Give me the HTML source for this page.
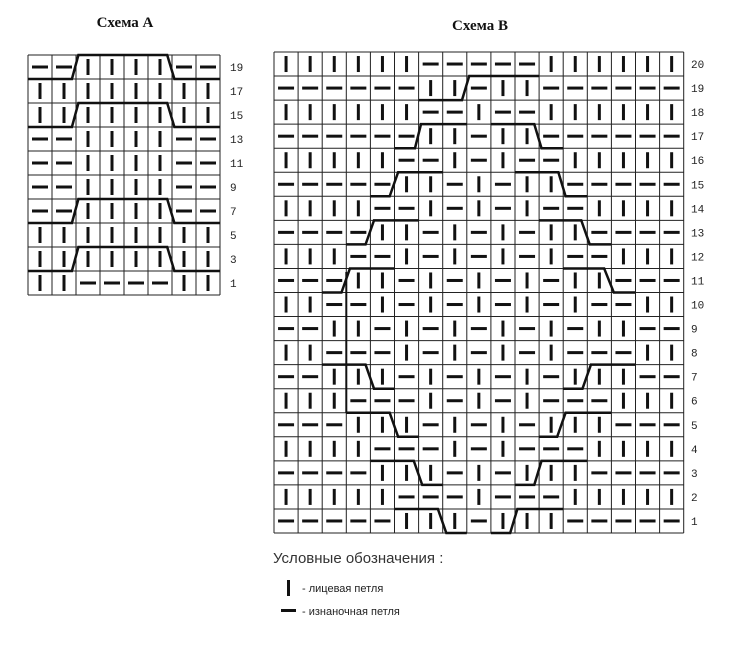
<!DOCTYPE html>
<html><head><meta charset="utf-8"><style>
html,body{margin:0;padding:0;background:#fff;width:737px;height:650px;overflow:hidden}
svg{position:absolute;left:0;top:0}
</style></head><body>
<svg id="s" width="737" height="650" xmlns="http://www.w3.org/2000/svg">
<text x="125" y="27" font-family="Liberation Serif, serif" font-weight="bold" font-size="15" text-anchor="middle" fill="#111">Схема А</text>
<text x="480" y="30" font-family="Liberation Serif, serif" font-weight="bold" font-size="15" text-anchor="middle" fill="#111">Схема В</text>
<text x="273" y="563" font-family="Liberation Sans, sans-serif" font-size="15" fill="#333">Условные обозначения :</text>
<rect x="287" y="580" width="3" height="16" fill="#111"/>
<text x="302" y="592" font-family="Liberation Sans, sans-serif" font-size="11" fill="#222">- лицевая петля</text>
<rect x="281" y="609" width="15" height="3" fill="#111"/>
<text x="302" y="615" font-family="Liberation Sans, sans-serif" font-size="11" fill="#222">- изнаночная петля</text>
</svg>
<script>
var s=document.getElementById('s'),NS='http://www.w3.org/2000/svg';
function el(t,a){var e=document.createElementNS(NS,t);for(var k in a)e.setAttribute(k,a[k]);s.appendChild(e);return e;}
function grid(x0,y0,cw,rh,rows,labels,lx){
 var nr=rows.length,nc=rows[0].length;
 for(var r=0;r<nr;r++){for(var c=0;c<nc;c++){
  var x=x0+c*cw,y=y0+r*rh,cx=x+cw/2,cy=y+rh/2;
  if(rows[r][c]=='K')el('rect',{x:cx-1.5,y:cy-8,width:3,height:16,fill:'#111'});
  else el('rect',{x:cx-8,y:cy-1.5,width:16,height:3,fill:'#111'});
 }
 var t=el('text',{x:lx,y:y0+r*rh+rh/2+4,'font-family':'Liberation Mono, monospace','font-size':'11',fill:'#222'});t.textContent=labels[r];}
 for(var r=0;r<=nr;r++)el('line',{x1:x0,x2:x0+nc*cw,y1:y0+r*rh,y2:y0+r*rh,stroke:'#222','stroke-width':1});
 for(var c=0;c<=nc;c++)el('line',{x1:x0+c*cw,x2:x0+c*cw,y1:y0,y2:y0+nr*rh,stroke:'#222','stroke-width':1});
}
function pl(x0,y0,cw,rh,rowIdx,pts){ // pts: [col, 't'|'b']
 var p=pts.map(function(q){return (x0+q[0]*cw)+','+(y0+rowIdx*rh+(q[1]=='t'?0:rh));}).join(' ');
 el('polyline',{points:p,fill:'none',stroke:'#111','stroke-width':2.5});
}
// Scheme A
var A=['PPKKKKPP','KKKKKKKK','KKKKKKKK','PPKKKKPP','PPKKKKPP','PPKKKKPP','PPKKKKPP','KKKKKKKK','KKKKKKKK','KKPPPPKK'];
grid(28,55,24,24,A,['19','17','15','13','11','9','7','5','3','1'],230);
[0,2,6,8].forEach(function(r){pl(28,55,24,24,r,[[0,'b'],[1.83,'b'],[2.1,'t'],[5.8,'t'],[6.1,'b'],[8,'b']]);});
// Scheme B
var B=['KKKKKKPPPPPKKKKKK','PPPPPPKKPKKPPPPPP','KKKKKKPPKPPKKKKKK','PPPPPPKKPKKPPPPPP','KKKKKPPKPKPPKKKKK',
'PPPPPKKPKPKKPPPPP','KKKKPPKPKPKPPKKKK','PPPPKKPKPKPKKPPPP','KKKPPKPKPKPKPPKKK','PPPKKPKPKPKPKKPPP',
'KKPPKPKPKPKPKPPKK','PPKKPKPKPKPKPKKPP','KKPPPKPKPKPKPPPKK','PPKKKPKPKPKPKKKPP','KKKPPPKPKPKPPPKKK',
'PPPKKKPKPKPKKKPPP','KKKKPPPKPKPPPKKKK','PPPPKKKPKPKKKPPPP','KKKKKPPPKPPPKKKKK','PPPPPKKKPKKKPPPPP'];
var bl=[];for(var i=20;i>=1;i--)bl.push(''+i);
var bx=274,by=52,bw=24.1,bh=24.05;
grid(bx,by,bw,bh,B,bl,691);
function R(n){return 20-n;}
pl(bx,by,bw,bh,R(19),[[6,'b'],[7.8,'b'],[8.1,'t'],[11,'t']]);
pl(bx,by,bw,bh,R(17),[[5,'b'],[5.85,'b'],[6.1,'t'],[8,'t']]);
pl(bx,by,bw,bh,R(17),[[9,'t'],[10.8,'t'],[11.1,'b'],[12,'b']]);
pl(bx,by,bw,bh,R(15),[[4,'b'],[4.8,'b'],[5.15,'t'],[7,'t']]);
pl(bx,by,bw,bh,R(15),[[10,'t'],[11.8,'t'],[12.1,'b'],[13,'b']]);
pl(bx,by,bw,bh,R(13),[[3,'b'],[3.8,'b'],[4.15,'t'],[6,'t']]);
pl(bx,by,bw,bh,R(13),[[11,'t'],[12.75,'t'],[13.1,'b'],[14,'b']]);
pl(bx,by,bw,bh,R(11),[[2,'b'],[2.8,'b'],[3.15,'t'],[5,'t']]);
pl(bx,by,bw,bh,R(11),[[12,'t'],[13.7,'t'],[14.1,'b'],[15,'b']]);
pl(bx,by,bw,bh,R(7),[[2,'t'],[3.8,'t'],[4.15,'b'],[5,'b']]);
pl(bx,by,bw,bh,R(7),[[12,'b'],[12.8,'b'],[13.15,'t'],[15,'t']]);
pl(bx,by,bw,bh,R(5),[[3,'t'],[4.8,'t'],[5.15,'b'],[6,'b']]);
pl(bx,by,bw,bh,R(5),[[11,'b'],[11.75,'b'],[12.1,'t'],[14,'t']]);
pl(bx,by,bw,bh,R(3),[[4,'t'],[5.8,'t'],[6.15,'b'],[7,'b']]);
pl(bx,by,bw,bh,R(3),[[10,'b'],[10.8,'b'],[11.1,'t'],[13,'t']]);
pl(bx,by,bw,bh,R(1),[[5,'t'],[6.8,'t'],[7.15,'b'],[8,'b']]);
pl(bx,by,bw,bh,R(1),[[9,'b'],[9.8,'b'],[10.1,'t'],[12,'t']]);
el('line',{x1:bx+3*bw,x2:bx+3*bw,y1:272,y2:by+R(5)*bh,stroke:'#111','stroke-width':2});
</script>
</body></html>
